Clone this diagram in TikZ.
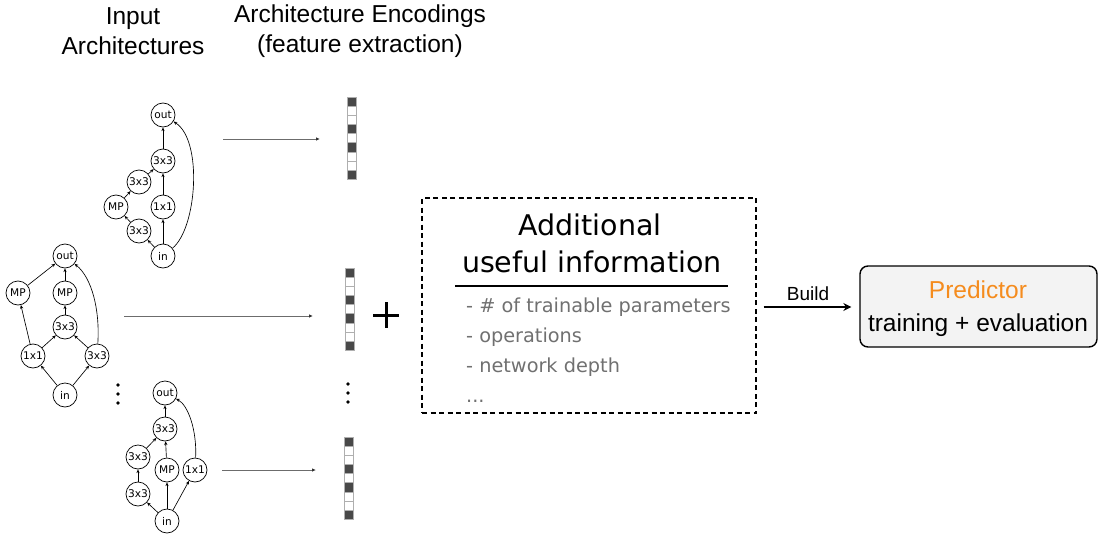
\documentclass[tikz,border=0pt]{standalone}
\usepackage{fontspec}
\setmainfont{Liberation Sans}
\newfontfamily\dvs{DejaVu Sans}
\usetikzlibrary{arrows.meta}
\definecolor{orng}{RGB}{245,140,30}
\definecolor{listgray}{RGB}{112,112,112}
\definecolor{darkcell}{RGB}{72,72,72}
\definecolor{cellline}{RGB}{175,175,175}
\definecolor{predfill}{RGB}{243,243,243}
\tikzset{
  arch/.style={circle,draw,line width=0.7pt,minimum size=24pt,inner sep=0pt,
    font=\dvs\fontsize{10.6}{12}\selectfont},
  e/.style={-{Stealth[length=3.8pt,width=3.2pt]},line width=0.65pt},
  encarrow/.style={draw=gray!85!black,line width=0.8pt,-{Latex[length=4pt,width=3.5pt,color=black!80]}},
  title/.style={align=center,font=\fontsize{24.5}{30}\selectfont},
  boxhead/.style={font=\dvs\fontsize{28.5}{34}\selectfont,anchor=base},
  listitem/.style={font=\dvs\fontsize{19.3}{23}\selectfont,text=listgray,anchor=base west,inner sep=0pt},
  dcell/.style={fill=darkcell,draw=cellline,line width=0.6pt},
  wcell/.style={fill=white,draw=cellline,line width=0.6pt},
  dotmark/.style={circle,fill=black,inner sep=0pt,minimum size=3.8pt},
}
\newcommand{\encbar}[3]{%
  % #1 = left x, #2 = top y, #3 = name
  \foreach \k/\t in {0/dcell,1/wcell,2/wcell,3/dcell,4/wcell,5/dcell,6/wcell,7/wcell,8/dcell}{
    \path[\t] (#1,{#2+\k*9.15}) rectangle ({#1+9.5},{#2+(\k+1)*9.15});
  }
  \coordinate (#3) at ({#1+4.75},{#2+41});
}
\begin{document}
\begin{tikzpicture}[x=1pt,y=-1pt]
\useasboundingbox (0,0) rectangle (1100,535);

% titles
\node[title] (t1) at (133,31) {Input\\Architectures};
\node[title] (t2) at (360,31) {Architecture Encodings\\(feature extraction)};

% graph 1
\node[arch] (a1out) at (163,115) {out};
\node[arch] (a1ct) at (163,161) {3x3};
\node[arch] (a1cu) at (139,182) {3x3};
\node[arch] (a1mp) at (116,207) {MP};
\node[arch] (a1c1) at (163,207) {1x1};
\node[arch] (a1cl) at (139,231) {3x3};
\node[arch] (a1in) at (163,256) {in};
\draw[e] (a1in) -- (a1cl);
\draw[e] (a1cl) -- (a1mp);
\draw[e] (a1mp) -- (a1cu);
\draw[e] (a1cu) -- (a1ct);
\draw[e] (a1in) -- (a1c1);
\draw[e] (a1c1) -- (a1ct);
\draw[e] (a1ct) -- (a1out);
\draw[e] (a1in) .. controls (197,228) and (203,140) .. (a1out);

% graph 2
\node[arch] (a2out) at (65,256) {out};
\node[arch] (a2mpl) at (18,293) {MP};
\node[arch] (a2mpm) at (65,293) {MP};
\node[arch] (a2cm) at (65,327) {3x3};
\node[arch] (a2c1) at (33,356) {1x1};
\node[arch] (a2cr) at (97,356) {3x3};
\node[arch] (a2in) at (65,395) {in};
\draw[e] (a2in) -- (a2c1);
\draw[e] (a2in) -- (a2cr);
\draw[e] (a2c1) -- (a2mpl);
\draw[e] (a2c1) -- (a2cm);
\draw[e] (a2cr) -- (a2cm);
\draw[e] (a2cm) -- (a2mpm);
\draw[e] (a2mpm) -- (a2out);
\draw[e] (a2mpl) -- (a2out);
\draw[e] (a2cr) .. controls (100,310) and (92,278) .. (a2out);

% graph 3
\node[arch] (a3out) at (165,393) {out};
\node[arch] (a3ct) at (165,429) {3x3};
\node[arch] (a3cu) at (138,457) {3x3};
\node[arch] (a3mp) at (167,470) {MP};
\node[arch] (a3c1) at (195,470) {1x1};
\node[arch] (a3cl) at (138,494) {3x3};
\node[arch] (a3in) at (167,521) {in};
\draw[e] (a3in) -- (a3cl);
\draw[e] (a3cl) -- (a3cu);
\draw[e] (a3cu) -- (a3ct);
\draw[e] (a3in) -- (a3mp);
\draw[e] (a3mp) -- (a3ct);
\draw[e] (a3ct) -- (a3out);
\draw[e] (a3in) -- (a3c1);
\draw[e] (a3c1) .. controls (197,430) and (188,405) .. (a3out);

% vertical dots
\node[dotmark] (d1) at (118,385) {};
\node[dotmark] (d2) at (118,394) {};
\node[dotmark] (d3) at (118,403) {};
\node[dotmark] (d4) at (348,384) {};
\node[dotmark] (d5) at (348,393) {};
\node[dotmark] (d6) at (348,402) {};

% encoding bars
\encbar{347}{97}{enc1}
\encbar{345}{268}{enc2}
\encbar{344}{437}{enc3}

% arrows to encodings
\coordinate (s1) at (223,139);
\coordinate (f1) at (320,139);
\coordinate (s2) at (124,316);
\coordinate (f2) at (313,316);
\coordinate (s3) at (222,470);
\coordinate (f3) at (316,470);
\draw[encarrow] (s1) -- (f1);
\draw[encarrow] (s2) -- (f2);
\draw[encarrow] (s3) -- (f3);

% plus
\draw[line width=3pt] (373,315) -- (399,315);
\draw[line width=3pt] (386,302) -- (386,328);

% additional info box
\node[draw,line width=1.3pt,dash pattern=on 5pt off 3.5pt,minimum width=334pt,minimum height=215pt,inner sep=0pt] (info) at (589,305.5) {};
\node[boxhead] (h1) at (590,235) {Additional};
\node[boxhead] (h2) at (592,272) {useful information};
\draw[line width=1.6pt] (455,286) -- (728,286);
\node[listitem] (l1) at (466,312) {- \# of trainable parameters};
\node[listitem] (l2) at (466,342) {- operations};
\node[listitem] (l3) at (466,372) {- network depth};
\node[listitem] (l4) at (466,402) {...};

% predictor
\node[draw,line width=1.4pt,rounded corners=8pt,fill=predfill,minimum width=237pt,minimum height=81pt] (pred) at (978.5,306.5) {};
\node[font=\fontsize{24.5}{30}\selectfont,text=orng,anchor=base] (p1) at (978,298) {Predictor};
\node[font=\fontsize{24.5}{30}\selectfont,anchor=base] (p2) at (978,331) {training + evaluation};

% build arrow
\draw[line width=1.2pt,-{Stealth[length=8pt,width=8pt]},shorten <=7pt,shorten >=8pt] (info.east |- 0,307) -- (pred.west |- 0,307)
  node[midway,above=2pt,font=\fontsize{19}{22}\selectfont] (bl) {Build};
\end{tikzpicture}
\end{document}
